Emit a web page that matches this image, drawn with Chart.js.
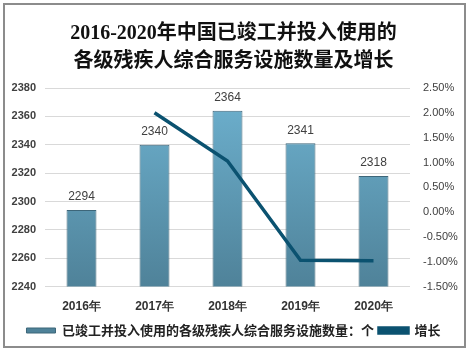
<!DOCTYPE html>
<html>
<head>
<meta charset="utf-8">
<script src="https://cdn.jsdelivr.net/npm/chart.js@4"></script>
<style>
  html, body { margin: 0; padding: 0; background: #fff; }
  #wrap { width: 469px; height: 351px; position: relative; }
</style>
</head>
<body>
<div id="wrap"><canvas id="chart" width="469" height="351"></canvas></div>
<script>
// 数据
const years      = ['2016年', '2017年', '2018年', '2019年', '2020年'];
const facilities = [2294, 2340, 2364, 2341, 2318];
const growth     = [null, 0.0200, 0.0103, -0.0097, -0.0098];
const leftTicks  = [2240, 2260, 2280, 2300, 2320, 2340, 2360, 2380];
const rightTicks = [-0.015, -0.01, -0.005, 0, 0.005, 0.01, 0.015, 0.02, 0.025];

const FONT = "'Noto Sans CJK SC', 'DejaVu Sans', sans-serif";
const TXT  = '#404040';

// 外框 + 白底
const framePlugin = {
    id: 'frame',
    beforeDraw(chart) {
        const c = chart.ctx;
        c.save();
        c.fillStyle = '#fff';
        c.fillRect(0, 0, chart.width, chart.height);
        c.strokeStyle = '#8c8c8c';
        c.lineWidth = 2;
        c.strokeRect(4, 4, chart.width - 8, chart.height - 8);
        c.restore();
    }
};

// 柱子上方数值
const valueLabels = {
    id: 'valueLabels',
    afterDatasetsDraw(chart) {
        const c = chart.ctx;
        const meta = chart.getDatasetMeta(1);
        c.save();
        c.font = "12px 'Liberation Sans', sans-serif";
        c.fillStyle = TXT;
        c.textAlign = 'center';
        c.textBaseline = 'middle';
        meta.data.forEach((bar, i) => {
            c.fillText(String(facilities[i]), bar.x, bar.y - 13);
        });
        c.restore();
    }
};

function barGradient(ctx) {
    const area = ctx.chart.chartArea;
    if (!area) return '#5f9db9';
    const g = ctx.chart.ctx.createLinearGradient(0, area.top, 0, area.bottom);
    g.addColorStop(0, '#6eb2d0');
    g.addColorStop(1, '#4f8299');
    return g;
}

new Chart(document.getElementById('chart'), {
    data: {
        labels: years,
        datasets: [
            {
                type: 'line',
                label: '增长',
                data: growth,
                yAxisID: 'y1',
                borderColor: '#0b5270',
                backgroundColor: '#0b5270',
                borderWidth: 3.5,
                pointRadius: 0,
                tension: 0,
                spanGaps: false,
                order: 0
            },
            {
                type: 'bar',
                label: '已竣工并投入使用的各级残疾人综合服务设施数量：个',
                data: facilities,
                yAxisID: 'y',
                backgroundColor: barGradient,
                borderColor: '#3d6679',
                borderWidth: 1,
                categoryPercentage: 1,
                barPercentage: 0.41,
                order: 1
            }
        ]
    },
    options: {
        responsive: false,
        animation: false,
        layout: { padding: { left: 8, right: 10, top: 20, bottom: 4 } },
        plugins: {
            title: {
                display: true,
                text: ['2016-2020年中国已竣工并投入使用的', '各级残疾人综合服务设施数量及增长'],
                color: '#111',
                font: { family: "'Liberation Serif', 'Noto Sans CJK SC', serif", size: 20, weight: 'bold', lineHeight: 1.4 },
                padding: { top: 0, bottom: 12 }
            },
            legend: {
                position: 'bottom',
                reverse: true,
                labels: {
                    color: '#222',
                    font: { family: FONT, size: 13, weight: 'bold' },
                    boxWidth: 29,
                    boxHeight: 5,
                    padding: 5
                }
            },
            tooltip: { enabled: false }
        },
        scales: {
            x: {
                grid: { display: false },
                border: { display: false },
                ticks: {
                    color: '#333',
                    font: { family: "'Liberation Sans', sans-serif", size: 12, weight: 'bold' },
                    padding: 5
                }
            },
            y: {
                position: 'left',
                min: 2240,
                max: 2380,
                afterBuildTicks: s => { s.ticks = leftTicks.map(v => ({ value: v })); },
                afterFit: s => { s.width = 37; },
                grid: { color: '#d9d9d9', drawTicks: false },
                border: { display: false },
                ticks: {
                    color: TXT,
                    font: { family: "'Liberation Sans', sans-serif", size: 11, weight: 'bold' },
                    padding: 9,
                    callback: v => String(v)
                }
            },
            y1: {
                position: 'right',
                min: -0.015,
                max: 0.025,
                afterBuildTicks: s => { s.ticks = rightTicks.map(v => ({ value: v })); },
                afterFit: s => { s.width = 49; },
                grid: { display: false, drawTicks: false },
                border: { display: false },
                ticks: {
                    color: TXT,
                    font: { family: "'Liberation Sans', sans-serif", size: 11 },
                    padding: 13,
                    callback: v => (v * 100).toFixed(2) + '%'
                }
            }
        }
    },
    plugins: [framePlugin, valueLabels]
});
</script>
</body>
</html>
